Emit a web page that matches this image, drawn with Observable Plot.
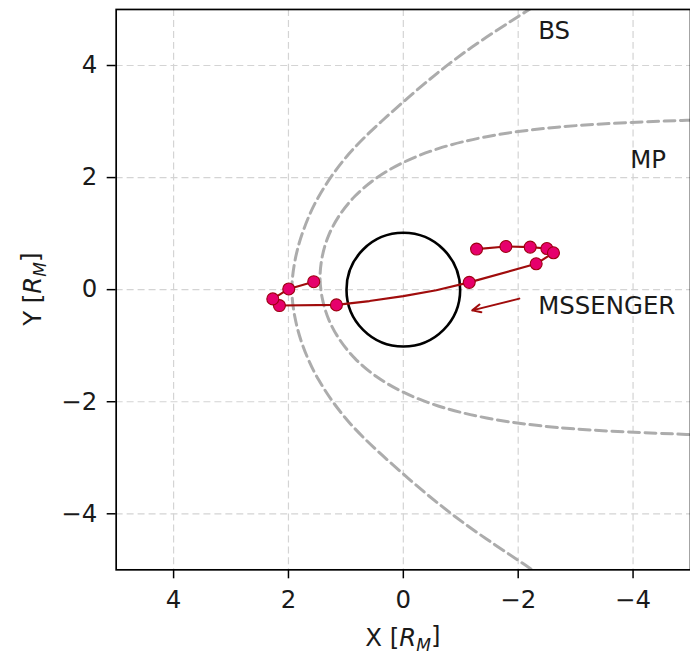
<!DOCTYPE html>
<html>
<head>
<meta charset="utf-8">
<script src="https://cdn.jsdelivr.net/npm/d3@7"></script>
<script src="https://cdn.jsdelivr.net/npm/@observablehq/plot@0.6"></script>
<style>
  html, body { margin: 0; padding: 0; background: #fff; overflow: hidden; }
  #chart svg { display: block; }
</style>
</head>
<body>
<div id="chart"></div>
<script>
// Axis ticks
const xTicks = [4, 2, 0, -2, -4];
const yTicks = [4, 2, 0, -2, -4];

// Bow shock (BS) boundary
const bsX = [-2.50, -2.13, -1.02, -0.10, 0.95, 1.48, 1.75, 1.89, 1.94, 1.89, 1.75, 1.48, 0.95, -0.10, -1.02, -2.13, -2.50];
const bsY = [5.20, 4.96, 4.20, 3.44, 2.42, 1.65, 1.03, 0.50, 0.00, -0.48, -1.00, -1.60, -2.36, -3.38, -4.14, -4.92, -5.18];

// Magnetopause (MP) boundary
const mpX = [-5.30, -4.85, -2.68, -1.45, -0.62, 0.00, 0.47, 0.84, 1.11, 1.30, 1.41, 1.45, 1.41, 1.30, 1.11, 0.84, 0.47, 0.00, -0.62, -1.45, -2.68, -4.85, -5.30];
const mpY = [3.03, 3.02, 2.90, 2.73, 2.52, 2.27, 1.99, 1.67, 1.33, 0.97, 0.60, 0.22, -0.16, -0.53, -0.89, -1.23, -1.55, -1.83, -2.08, -2.29, -2.46, -2.58, -2.59];

// MESSENGER trajectory (line) and marked positions
const trajX = [-1.275, -1.786, -2.209, -2.499, -2.614, -2.313, -1.148, -0.574, 0.000, 0.590, 1.165, 2.157, 2.273, 1.995, 1.560];
const trajY = [0.724, 0.770, 0.759, 0.734, 0.658, 0.462, 0.130, -0.009, -0.116, -0.204, -0.272, -0.284, -0.165, 0.012, 0.142];
const markX = [-1.275, -1.786, -2.209, -2.499, -2.614, -2.313, -1.148, 1.165, 2.157, 2.273, 1.995, 1.560];
const markY = [0.724, 0.770, 0.759, 0.734, 0.658, 0.462, 0.130, -0.272, -0.284, -0.165, 0.012, 0.142];

// Direction arrow
const arrowX = [-2.02, -1.20];
const arrowY = [-0.16, -0.37];

// Region labels
const labelText = ["BS", "MP", "MSSENGER"];
const labelX = [-2.35, -3.95, -2.35];
const labelY = [4.62, 2.31, -0.30];

const bs = bsX.map((x, i) => ({x, y: bsY[i]}));
const mp = mpX.map((x, i) => ({x, y: mpY[i]}));
const traj = trajX.map((x, i) => ({x, y: trajY[i]}));
const marks = markX.map((x, i) => ({x, y: markY[i]}));
const arrows = [{x1: arrowX[0], y1: arrowY[0], x2: arrowX[1], y2: arrowY[1]}];
const labels = labelText.map((t, i) => ({t, x: labelX[i], y: labelY[i]}));
const planet = [{x: 0, y: 0}];

const fmt = d => d < 0 ? "\u2212" + Math.abs(d) : String(d);
const FS = 24.5;

const plot = Plot.plot({
  width: 692,
  height: 665,
  marginLeft: 116,
  marginRight: 0,
  marginTop: 9,
  marginBottom: 94,
  style: {fontFamily: "DejaVu Sans", background: "#fff", overflow: "visible"},
  x: {domain: [5, -5]},
  y: {domain: [-5, 5]},
  marks: [
    Plot.gridX(xTicks, {stroke: "#d4d4d4", strokeOpacity: 1, strokeWidth: 1.2, strokeDasharray: "7,4"}),
    Plot.gridY(yTicks, {stroke: "#d4d4d4", strokeOpacity: 1, strokeWidth: 1.2, strokeDasharray: "7,4"}),
    Plot.line(bs, {x: "x", y: "y", stroke: "#acacac", strokeWidth: 3, strokeDasharray: "11,5.5", curve: "catmull-rom", clip: true}),
    Plot.line(mp, {x: "x", y: "y", stroke: "#acacac", strokeWidth: 3, strokeDasharray: "11,5.5", curve: "catmull-rom", clip: true}),
    Plot.dot(planet, {x: "x", y: "y", r: 57, fill: "none", stroke: "#000", strokeWidth: 2.6}),
    Plot.line(traj, {x: "x", y: "y", stroke: "#a00c0c", strokeWidth: 2.1, curve: "linear"}),
    Plot.dot(marks, {x: "x", y: "y", r: 6, fill: "#e6006c", stroke: "#9e0010", strokeWidth: 1.1}),
    Plot.arrow(arrows, {x1: "x1", y1: "y1", x2: "x2", y2: "y2", stroke: "#a00c0c", strokeWidth: 2, headLength: 7, headAngle: 50}),
    Plot.text(labels, {x: "x", y: "y", text: "t", textAnchor: "start", fontSize: FS, fill: "#1a1a1a"}),
    Plot.axisX(xTicks, {tickSize: 9, tickPadding: 12, tickFormat: fmt, fontSize: FS, label: null, stroke: "#000", strokeWidth: 1.5, fill: "#1a1a1a"}),
    Plot.axisY(yTicks, {tickSize: 9, tickPadding: 10, tickFormat: fmt, fontSize: FS, label: null, stroke: "#000", strokeWidth: 1.5, fill: "#1a1a1a"}),
    Plot.frame({stroke: "#000", strokeWidth: 1.7})
  ]
});

document.getElementById("chart").appendChild(plot);

// Axis titles with italic subscript
const svg = d3.select(plot);
function addLabel(prefix, attrs) {
  const t = svg.append("text")
    .attr("font-family", "DejaVu Sans")
    .attr("font-size", FS)
    .attr("fill", "#1a1a1a")
    .attr("text-anchor", "middle");
  Object.entries(attrs).forEach(([k, v]) => t.attr(k, v));
  t.append("tspan").text(prefix + " [");
  t.append("tspan").attr("font-style", "italic").text("R");
  t.append("tspan").attr("font-style", "italic").attr("font-size", FS * 0.7).attr("dy", "0.3em").text("M");
  t.append("tspan").attr("dy", "-0.3em").text("]");
}
addLabel("X", {x: 404, y: 648});
addLabel("Y", {transform: "translate(41,290) rotate(-90)"});
</script>
</body>
</html>
